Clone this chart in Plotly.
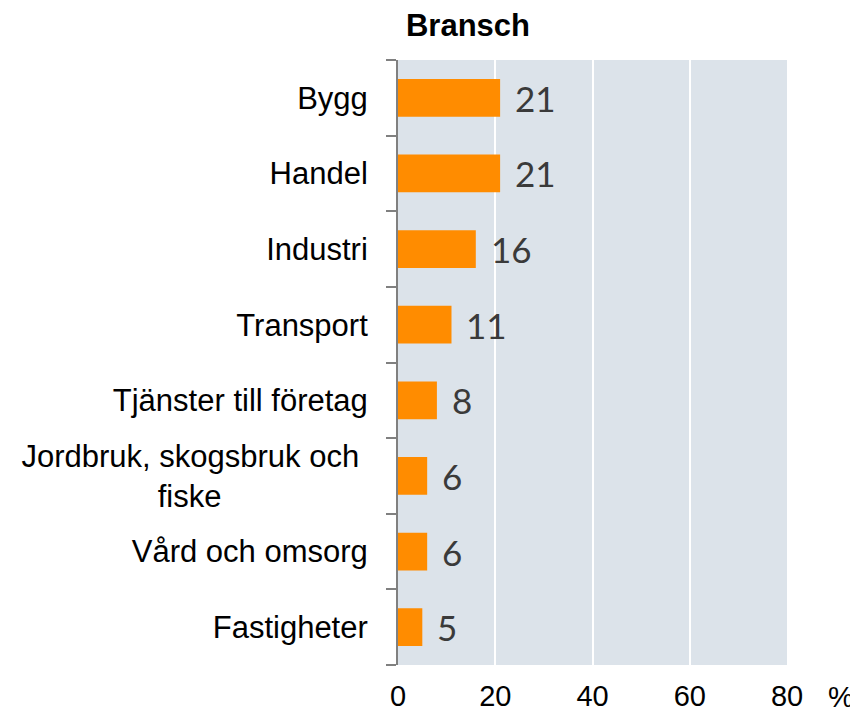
import plotly.graph_objects as go

categories = ["Bygg", "Handel", "Industri", "Transport", "Tjänster till företag",
              "Jordbruk, skogsbruk och fiske", "Vård och omsorg", "Fastigheter"]
tick_labels = ["Bygg", "Handel", "Industri", "Transport", "Tjänster till företag",
               "Jordbruk, skogsbruk och\u00a0<br>fiske" + "\u00a0" * 17, "Vård och omsorg", "Fastigheter"]
values = [21, 21, 16, 11, 8, 6, 6, 5]
x_ticks = [0, 20, 40, 60, 80]

fig = go.Figure()
fig.add_trace(go.Bar(
    y=categories, x=values, orientation="h",
    marker=dict(color="#FF8C00", line=dict(width=0)),
    width=0.5,
))

for c, v in zip(categories, values):
    fig.add_annotation(x=v, y=c, text=str(v), showarrow=False,
                       xanchor="left", xshift=13,
                       font=dict(family="Lato, Open Sans, sans-serif", size=35, color="#3a3a3a"))

fig.add_annotation(xref="paper", yref="paper", x=1.0, y=0, xshift=39, yshift=-32,
                   text="%", showarrow=False, xanchor="left", yanchor="middle",
                   font=dict(family="Liberation Sans, Arial", size=29, color="#000"))

fig.update_layout(
    width=850, height=705,
    margin=dict(l=390, r=71, t=52, b=48, autoexpand=False),
    paper_bgcolor="white",
    plot_bgcolor="#dce3ea",
    showlegend=False,
    bargap=0.5,
    title=dict(text="<b>Bransch</b>", x=460 / 850, xanchor="center", y=1 - 17 / 705, yanchor="middle",
               font=dict(family="Liberation Sans, Arial", size=31, color="#000")),
    font=dict(family="Liberation Sans, Arial", color="#000"),
)
fig.update_xaxes(range=[0, 80], tickvals=x_ticks, showgrid=True, gridcolor="white", gridwidth=2,
                 zeroline=False, showline=False, ticks="", ticklabelstandoff=11,
                 tickfont=dict(size=29, family="Liberation Sans, Arial", color="#000"))
fig.update_yaxes(categoryorder="array", categoryarray=categories,
                 tickvals=categories, ticktext=tick_labels,
                 autorange="reversed", showgrid=False, showline=True, linecolor="#808080", linewidth=2,
                 ticks="outside", tickson="boundaries", ticklen=10, tickcolor="#808080", tickwidth=2,
                 ticklabelstandoff=22,
                 tickfont=dict(size=31, family="Liberation Sans, Arial", color="#000"))

fig.write_html("out.html")
